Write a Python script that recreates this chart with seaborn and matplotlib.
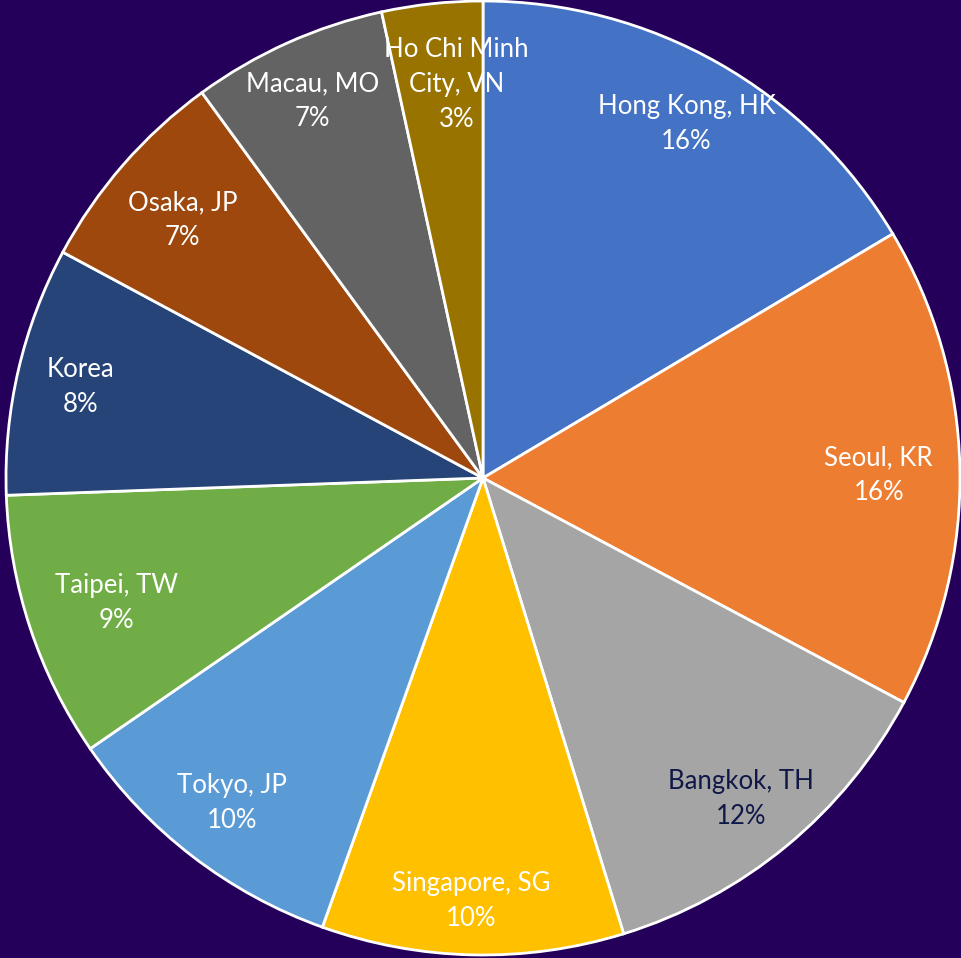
import matplotlib
matplotlib.use("Agg")
import matplotlib.pyplot as plt
import matplotlib.transforms as mtransforms
import seaborn as sns

cities = ["Hong Kong, HK", "Seoul, KR", "Bangkok, TH", "Singapore, SG", "Tokyo, JP",
          "Taipei, TW", "Korea", "Osaka, JP", "Macau, MO", "Ho Chi Minh\nCity, VN"]
shares = [16.4, 16.3, 12.4, 10.2, 9.9, 9.0, 8.4, 7.1, 6.6, 3.4]
colors = ["#4472C4", "#ED7D31", "#A5A5A5", "#FFC000", "#5B9BD5",
          "#70AD47", "#264478", "#9E480E", "#636363", "#997300"]
text_colors = ["white", "white", "#101848", "white", "white",
               "white", "white", "white", "white", "white"]
# small per-label nudges (pixels, right/down) mimicking the source's label placement
label_nudge = [(2, 1), (-12, 7), (-2, 6), (-3, 15), (-2, 2),
               (21, -3), (-5, 1), (7, 10), (-3, -5), (17, 12)]

BG = "#24005A"
sns.set_theme(style="white", rc={"figure.facecolor": BG, "axes.facecolor": BG})
plt.rcParams["font.family"] = ["Lato", "DejaVu Sans"]

W, H = 961, 958
DPI = 100
fig = plt.figure(figsize=(W / DPI, H / DPI), dpi=DPI)
ax = fig.add_axes([0, 0, 1, 1])
ax.set_facecolor(BG)

total = sum(shares)
labels = [f"{c}\n{round(s / total * 100):.0f}%" for c, s in zip(cities, shares)]

R = 477
cx, cy = 483, 958 - 478
wedges, texts = ax.pie(shares, colors=colors, labels=labels, startangle=90,
                       counterclock=False, labeldistance=0.855, radius=1.0,
                       wedgeprops=dict(edgecolor="white", linewidth=2.0),
                       textprops=dict(fontsize=18.5, linespacing=1.5))
for t, tc, (dx, dy) in zip(texts, text_colors, label_nudge):
    t.set_ha("center")
    t.set_va("center")
    t.set_color(tc)
    t.set_transform(ax.transData + mtransforms.ScaledTranslation(
        dx / DPI, -dy / DPI, fig.dpi_scale_trans))

ax.set_xlim(-cx / R, (W - cx) / R)
ax.set_ylim(-cy / R, (H - cy) / R)
ax.set_aspect("auto")
ax.axis("off")

fig.savefig("out.png", dpi=DPI, facecolor=BG)
